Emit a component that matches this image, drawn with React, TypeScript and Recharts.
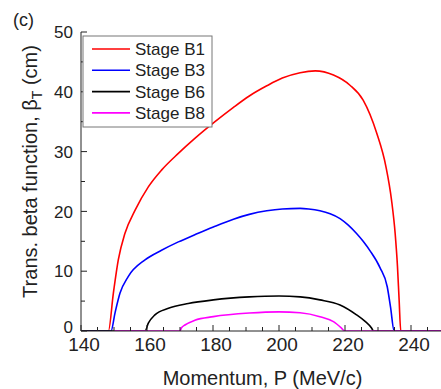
import React from 'react';
import { LineChart, Line, XAxis, YAxis } from 'recharts';

const momentumB1 = [140, 148.3, 149.8, 151.3, 153.3, 156.4, 160.4, 164.4, 169.5, 174.5, 180.6, 186.2, 191, 196.3, 201, 206.4, 211, 216.5, 221.5, 225.5, 229.6, 232.4, 234.1, 235.2, 235.9, 236.4, 236.9, 250];
const betaB1 = [0, 0, 6.3, 11.9, 16.3, 20.2, 24.1, 26.9, 29.7, 32.2, 35.0, 37.4, 39.3, 41.0, 42.3, 43.2, 43.5, 42.8, 41.1, 38.6, 33.1, 27.5, 21.9, 16.3, 10.8, 5.2, 0, 0];

const momentumB3 = [140, 149.1, 150.3, 151.8, 154.3, 159.4, 164.4, 169.5, 174.5, 180.1, 186.2, 191, 196.3, 201, 206.4, 209, 212.4, 215.5, 218.5, 221, 223.5, 225.5, 227.6, 230.6, 232.8, 233.8, 234.9, 250];
const betaB3 = [0, 0, 3.0, 6.3, 9.1, 11.9, 13.5, 14.9, 16.1, 17.4, 18.7, 19.5, 20.1, 20.4, 20.5, 20.4, 20.1, 19.6, 18.8, 17.7, 16.3, 15.0, 13.4, 10.6, 7.4, 4.0, 0, 0];

const momentumB6 = [140, 159.4, 160.4, 162.4, 166.5, 172.5, 180.1, 191, 200, 206.4, 212.4, 218.5, 223.5, 226.1, 228.1, 228.6, 250];
const betaB6 = [0, 0, 1.3, 2.7, 3.8, 4.6, 5.2, 5.7, 5.85, 5.7, 5.2, 4.35, 2.7, 1.6, 0.45, 0, 0];

const momentumB8 = [150, 170, 170.4, 171.5, 174.5, 180.1, 191, 200, 206.4, 212.4, 216.5, 219, 219.9, 250];
const betaB8 = [0, 0, 0.5, 1.0, 1.8, 2.4, 3.0, 3.2, 3.05, 2.4, 1.56, 0.45, 0, 0];

const seriesNames = ['Stage B1', 'Stage B3', 'Stage B6', 'Stage B8'];
const seriesColors = ['#ff0000', '#0000ff', '#000000', '#ff00ff'];
const xTicks = [140, 145, 150, 155, 160, 165, 170, 175, 180, 185, 190, 195, 200, 205, 210, 215, 220, 225, 230, 235, 240, 245, 250];
const yTicks = [0, 5, 10, 15, 20, 25, 30, 35, 40, 45, 50];
const xTitle = 'Momentum, P (MeV/c)';
const yTitleMain = 'Trans. beta function, ';
const yTitleSymbol = 'β';
const yTitleSub = 'T';
const yTitleUnit = ' (cm)';
const panelLabel = '(c)';

const FONT = '"Liberation Sans", Arial, sans-serif';
const AXIS = '#222';

const toPoints = (xs: number[], ys: number[]) => xs.map((x, i) => ({ x, y: ys[i] }));
const seriesData = [
  toPoints(momentumB1, betaB1),
  toPoints(momentumB3, betaB3),
  toPoints(momentumB6, betaB6),
  toPoints(momentumB8, betaB8),
];

const BottomTick = (props: any) => {
  const { x, y, payload } = props;
  const v = payload.value;
  const major = v % 20 === 0;
  return (
    <g>
      <line x1={x} x2={x} y1={y} y2={y - (major ? 6 : 4)} stroke={AXIS} strokeWidth={1} />
      {major && v < 250 && (
        <text x={x + 3} y={y + 7} dy="0.71em" textAnchor="middle" fontSize={19} fill="#222" fontFamily={FONT}>
          {v}
        </text>
      )}
    </g>
  );
};

const TopTick = (props: any) => {
  const { x, y, payload } = props;
  const major = payload.value % 20 === 0;
  return <line x1={x} x2={x} y1={y} y2={y + (major ? 6 : 4)} stroke={AXIS} strokeWidth={1} />;
};

const LeftTick = (props: any) => {
  const { x, y, payload } = props;
  const v = payload.value;
  const major = v % 10 === 0;
  return (
    <g>
      <line x1={x} x2={x + (major ? 6 : 4)} y1={y} y2={y} stroke={AXIS} strokeWidth={1} />
      {major && (
        <text x={x - 8} y={v === 0 ? y - 4 : y} dy="0.36em" textAnchor="end" fontSize={17} fill="#222" fontFamily={FONT}>
          {v}
        </text>
      )}
    </g>
  );
};

const XTitle = (props: any) => {
  const vb = props.viewBox || {};
  const cx = vb.x + vb.width / 2;
  return (
    <text x={cx} y={vb.y + 47} dy="0.36em" textAnchor="middle" fontSize={20} fill="#222" fontFamily={FONT}>
      {xTitle}
    </text>
  );
};

const YTitle = (props: any) => {
  const vb = props.viewBox || {};
  const cx = 30;
  const cy = vb.y + vb.height / 2 - 10;
  return (
    <text
      x={cx}
      y={cy}
      dy="0.36em"
      textAnchor="middle"
      fontSize={20}
      fill="#222"
      fontFamily={FONT}
      transform={`rotate(-90, ${cx}, ${cy})`}
    >
      <tspan>{yTitleMain}</tspan>
      <tspan>{yTitleSymbol}</tspan>
      <tspan fontSize={14} dy="5">{yTitleSub}</tspan>
      <tspan dy="-5">{yTitleUnit}</tspan>
    </text>
  );
};

const LegendBox = () => (
  <svg width={131} height={93} style={{ position: 'absolute', left: 82, top: 35 }}>
    <rect x={1} y={1} width={129} height={91} fill="#fff" stroke="#777" strokeWidth={1} />
    {seriesNames.map((name, i) => {
      const cy = 14 + i * 21.3;
      return (
        <g key={name}>
          <line x1={10} x2={48} y1={cy} y2={cy} stroke={seriesColors[i]} strokeWidth={1.6} />
          <text x={53} y={cy} dy="0.36em" fontSize={17} fill="#222" fontFamily={FONT}>
            {name}
          </text>
        </g>
      );
    })}
  </svg>
);

export default function App() {
  return (
    <div style={{ position: 'fixed', left: 0, top: 0, width: 441, height: 389, overflow: 'hidden', background: '#fff' }}>
      <LineChart width={460} height={389} margin={{ top: 32, left: 41, right: 16, bottom: 28 }}>
        <XAxis
          type="number"
          dataKey="x"
          domain={[140, 250]}
          ticks={xTicks}
          interval={0}
          allowDataOverflow
          tickSize={0}
          tickMargin={0}
          tickLine={false}
          tick={<BottomTick />}
          axisLine={{ stroke: AXIS, strokeWidth: 1 }}
          height={30}
          label={<XTitle />}
        />
        <XAxis
          xAxisId="top"
          orientation="top"
          type="number"
          dataKey="x"
          domain={[140, 250]}
          ticks={xTicks}
          interval={0}
          allowDataOverflow
          tickSize={0}
          tickMargin={0}
          tickLine={false}
          tick={<TopTick />}
          axisLine={{ stroke: AXIS, strokeWidth: 1 }}
          height={0}
        />
        <YAxis
          type="number"
          domain={[0, 50]}
          ticks={yTicks}
          interval={0}
          allowDataOverflow
          tickSize={0}
          tickMargin={0}
          tickLine={false}
          tick={<LeftTick />}
          axisLine={{ stroke: AXIS, strokeWidth: 1 }}
          width={40}
          label={<YTitle />}
        />
        {seriesData.map((pts, i) => (
          <Line
            key={seriesNames[i]}
            name={seriesNames[i]}
            data={pts}
            dataKey="y"
            type="monotone"
            stroke={seriesColors[i]}
            strokeWidth={1.6}
            dot={false}
            activeDot={false}
            isAnimationActive={false}
          />
        ))}
      </LineChart>
      <LegendBox />
      <div style={{ position: 'absolute', left: 13, top: 9, fontSize: 18, fontFamily: FONT, color: '#222', lineHeight: '22px' }}>
        {panelLabel}
      </div>
    </div>
  );
}
